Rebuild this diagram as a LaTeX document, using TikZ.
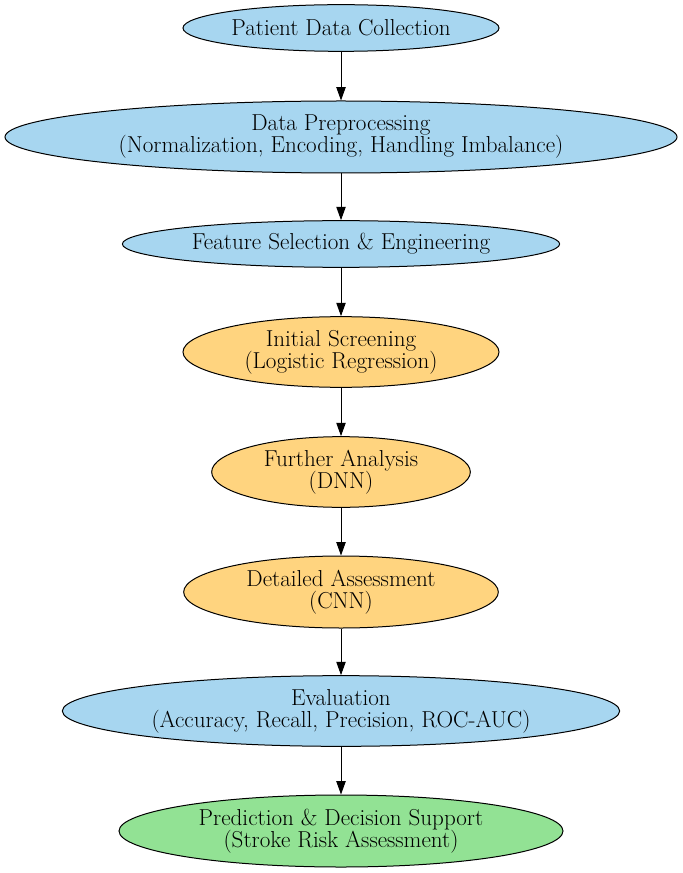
\documentclass[tikz,border=0pt]{standalone}
\usepackage{tikz}
\usetikzlibrary{shapes.geometric, arrows.meta}
\definecolor{stageblue}{HTML}{A7D6F0}
\definecolor{stageorange}{HTML}{FFD47F}
\definecolor{stagegreen}{HTML}{92E294}
\tikzset{arrow/.style = {line width=0.75pt,-{Triangle[length=10pt,width=7pt]}}}
\tikzset{stage/.style = {ellipse, draw, line width=0.75pt, inner sep=0pt, align=center, font=\fontsize{17.3}{16.5}\selectfont}}

\begin{document}
\begin{tikzpicture}[x=0.75pt, y=-0.75pt]
\useasboundingbox (0,0) rectangle (682,873);

\node[stage, fill=stageblue, minimum width=237pt, minimum height=35pt] (collect) at (341,28) {Patient Data Collection};
\node[stage, fill=stageblue, minimum width=504pt, minimum height=54pt] (prep) at (341,137) {Data Preprocessing\\(Normalization, Encoding, Handling Imbalance)};
\node[stage, fill=stageblue, minimum width=328pt, minimum height=35pt] (feat) at (341,244) {Feature Selection \& Engineering};
\node[stage, fill=stageorange, minimum width=237pt, minimum height=53pt] (screen) at (341,352) {Initial Screening\\(Logistic Regression)};
\node[stage, fill=stageorange, minimum width=194pt, minimum height=53pt] (dnn) at (341,472) {Further Analysis\\(DNN)};
\node[stage, fill=stageorange, minimum width=236pt, minimum height=54pt] (cnn) at (341,592) {Detailed Assessment\\(CNN)};
\node[stage, fill=stageblue, minimum width=418pt, minimum height=53pt] (eval) at (341,711) {Evaluation\\(Accuracy, Recall, Precision, ROC-AUC)};
\node[stage, fill=stagegreen, minimum width=333pt, minimum height=54pt] (predict) at (341,831) {Prediction \& Decision Support\\(Stroke Risk Assessment)};

\draw[arrow] (collect) -- (prep);
\draw[arrow] (prep) -- (feat);
\draw[arrow] (feat) -- (screen);
\draw[arrow] (screen) -- (dnn);
\draw[arrow] (dnn) -- (cnn);
\draw[arrow] (cnn) -- (eval);
\draw[arrow] (eval) -- (predict);

\end{tikzpicture}
\end{document}
